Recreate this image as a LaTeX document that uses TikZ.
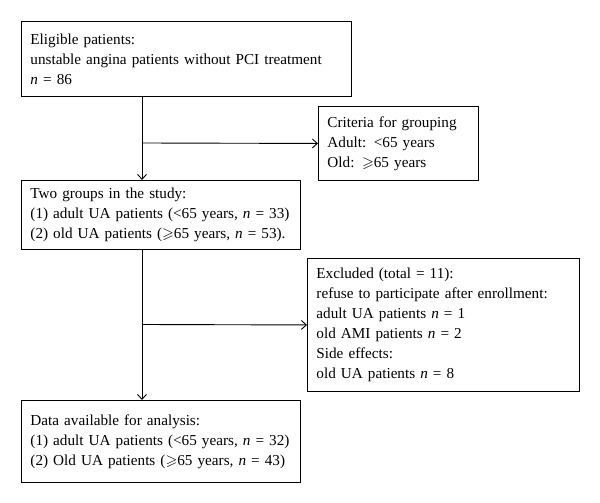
\documentclass[tikz,border=0pt]{standalone}
\usepackage{amssymb}
\usepackage{fontspec}
\setmainfont{Liberation Serif}
\usetikzlibrary{arrows.meta}
\tikzset{
  flowbox/.style={draw, line width=0.9pt, anchor=north west, align=left,
    inner xsep=9pt, inner ysep=0pt, font=\fontsize{15.2}{20}\selectfont},
  flowarrow/.style={line width=0.9pt, -{Straight Barb[length=5pt,width=9pt]}}
}
\newcommand{\nn}{\textit{n}}
\begin{document}
\begin{tikzpicture}[x=1pt,y=-1pt]
     		\useasboundingbox (0,0) rectangle (600,503);
     		\node[flowbox, minimum width=330pt, minimum height=75pt, text width=312pt] (elig) at (21,21) {Eligible patients:\\unstable angina patients without PCI treatment\\\nn{} = 86};
     		\node[flowbox, minimum width=160pt, minimum height=74pt, text width=142pt] (crit) at (318,106) {Criteria for grouping\\Adult: <65 years\\Old: $\geqslant$65 years};
     		\node[flowbox, minimum width=279pt, minimum height=69pt, text width=261pt] (groups) at (21,180) {Two groups in the study:\\(1) adult UA patients (<65 years, \nn{} = 33)\\(2) old UA patients ($\geqslant$65 years, \nn{} = 53).};
     		\node[flowbox, minimum width=272pt, minimum height=133pt, text width=254pt] (excl) at (307,258) {Excluded (total = 11):\\refuse to participate after enrollment:\\adult UA patients \nn{} = 1\\old AMI patients \nn{} = 2\\Side effects:\\old UA patients \nn{} = 8};
     		\node[flowbox, minimum width=279pt, minimum height=82pt, text width=261pt] (data) at (21,400) {Data available for analysis:\\(1) adult UA patients (<65 years, \nn{} = 32)\\(2) Old UA patients ($\geqslant$65 years, \nn{} = 43)};
     		\coordinate (split1) at (142,143);
     		\coordinate (split2) at (142,324.5);
     		\draw[flowarrow] (elig.south -| split1) -- (groups.north -| split1);
     		\draw[flowarrow] (split1) -- (crit.west);
     		\draw[flowarrow] (groups.south -| split2) -- (data.north -| split2);
     		\draw[flowarrow] (split2) -- (excl.west);
		\end{tikzpicture}
\end{document}
